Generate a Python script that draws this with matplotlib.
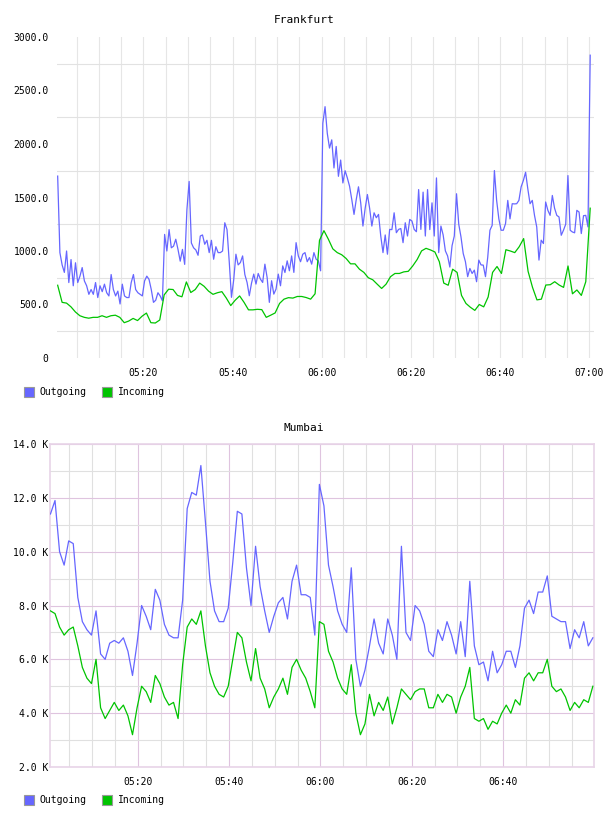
import matplotlib
matplotlib.use("Agg")
import matplotlib.pyplot as plt
import matplotlib.dates as mdates
from matplotlib.patches import Rectangle
from matplotlib.ticker import MultipleLocator, FixedLocator, FuncFormatter
import numpy as np
import pandas as pd

# series info shared by both panels
series_labels = ["Outgoing", "Incoming"]
series_colors = ["#6666ff", "#00c400"]

# Frankfurt, bytes (30 s samples outgoing, ~1 min incoming)
frankfurt_out = [
    1700, 985, 870, 800, 1000, 705, 920, 675, 890, 705,
    765, 845, 720, 675, 595, 640, 595, 705, 565, 675,
    620, 690, 610, 580, 780, 640, 580, 625, 505, 690,
    580, 565, 565, 705, 780, 640, 610, 595, 580, 720,
    765, 735, 640, 520, 540, 610, 580, 535, 1155, 1000,
    1200, 1030, 1045, 1110, 1015, 905, 1015, 875, 1385, 1650,
    1075, 1030, 1010, 960, 1140, 1150, 1063, 1100, 985, 1100,
    923, 1040, 985, 985, 1000, 1264, 1200, 900, 567, 730,
    970, 870, 892, 954, 780, 706, 582, 700, 784, 691,
    790, 737, 706, 877, 753, 520, 722, 597, 644, 784,
    675, 861, 799, 908, 815, 954, 800, 1078, 954, 900,
    970, 985, 900, 939, 877, 985, 923, 908, 815, 2194,
    2349, 2100, 1962, 2039, 1776, 1977, 1698, 1850, 1636, 1750,
    1683, 1605, 1480, 1342, 1481, 1600, 1450, 1233, 1400, 1528,
    1400, 1233, 1357, 1311, 1342, 1140, 985, 1150, 970, 1202,
    1200, 1357, 1171, 1202, 1210, 1078, 1264, 1140, 1295, 1280,
    1202, 1180, 1574, 1202, 1550, 1140, 1574, 1200, 1450, 1140,
    1683, 985, 1233, 1150, 1001, 954, 850, 1050, 1140, 1535,
    1250, 1132, 977, 900, 760, 837, 790, 821, 713, 915,
    870, 868, 760, 940, 1194, 1240, 1752, 1473, 1300, 1194,
    1194, 1256, 1473, 1300, 1442, 1440, 1442, 1473, 1600, 1659,
    1736, 1580, 1442, 1473, 1333, 1225, 915, 1101, 1070, 1458,
    1380, 1333, 1519, 1400, 1333, 1318, 1147, 1194, 1250, 1705,
    1194, 1178, 1170, 1380, 1364, 1163, 1330, 1333, 1225, 2830,
]
frankfurt_in = [
    680, 520, 513, 478, 430, 395, 380, 372, 380, 380,
    395, 380, 395, 400, 380, 330, 345, 370, 350, 390,
    420, 330, 327, 355, 590, 643, 640, 585, 572, 711,
    612, 640, 700, 670, 625, 595, 610, 620, 560, 490,
    540, 580, 520, 450, 450, 455, 452, 380, 400, 421,
    510, 550, 564, 560, 575, 575, 565, 550, 600, 1100,
    1190, 1110, 1020, 985, 965, 930, 880, 880, 830, 800,
    750, 731, 690, 650, 690, 760, 790, 790, 805, 810,
    860, 920, 1001, 1025, 1010, 991, 900, 700, 680, 830,
    800, 585, 510, 474, 445, 500, 478, 570, 800, 855,
    790, 1012, 1000, 985, 1040, 1116, 810, 660, 543, 550,
    682, 685, 713, 682, 660, 860, 600, 636, 585, 713, 1400,
]
frankfurt_span = ("2024-01-01 05:00:45", "2024-01-01 07:00:15")

# Mumbai, thousands (1 min samples)
mumbai_out = [
    11.4, 11.9, 10.0, 9.5, 10.4, 10.3, 8.3, 7.4, 7.1, 6.9,
    7.8, 6.2, 6.0, 6.6, 6.7, 6.6, 6.8, 6.3, 5.4, 6.6,
    8.0, 7.6, 7.1, 8.6, 8.2, 7.3, 6.9, 6.8, 6.8, 8.2,
    11.6, 12.2, 12.1, 13.2, 11.1, 8.9, 7.8, 7.4, 7.4, 7.9,
    9.6, 11.5, 11.4, 9.4, 8.0, 10.2, 8.7, 7.8, 7.0, 7.6,
    8.1, 8.3, 7.5, 8.9, 9.5, 8.4, 8.4, 8.3, 6.9, 12.5,
    11.7, 9.5, 8.7, 7.8, 7.3, 7.0, 9.4, 6.0, 5.0, 5.6,
    6.5, 7.5, 6.6, 6.2, 7.5, 6.9, 6.0, 10.2, 7.0, 6.7,
    8.0, 7.8, 7.3, 6.3, 6.1, 7.1, 6.7, 7.4, 6.9, 6.2,
    7.4, 6.1, 8.9, 6.5, 5.8, 5.9, 5.2, 6.3, 5.5, 5.8,
    6.3, 6.3, 5.7, 6.5, 7.9, 8.2, 7.7, 8.5, 8.5, 9.1,
    7.6, 7.5, 7.4, 7.4, 6.4, 7.1, 6.8, 7.4, 6.5, 6.8,
]
mumbai_in = [
    7.8, 7.7, 7.2, 6.9, 7.1, 7.2, 6.5, 5.7, 5.3, 5.1,
    6.0, 4.2, 3.8, 4.1, 4.4, 4.1, 4.3, 3.9, 3.2, 4.2,
    5.0, 4.8, 4.4, 5.4, 5.1, 4.6, 4.3, 4.4, 3.8, 5.8,
    7.2, 7.5, 7.3, 7.8, 6.5, 5.5, 5.0, 4.7, 4.6, 5.0,
    6.0, 7.0, 6.8, 5.9, 5.2, 6.4, 5.3, 4.9, 4.2, 4.6,
    4.9, 5.3, 4.7, 5.7, 6.0, 5.6, 5.3, 4.8, 4.2, 7.4,
    7.3, 6.3, 5.9, 5.3, 4.9, 4.7, 5.8, 4.0, 3.2, 3.6,
    4.7, 3.9, 4.4, 4.1, 4.6, 3.6, 4.2, 4.9, 4.7, 4.5,
    4.8, 4.9, 4.9, 4.2, 4.2, 4.7, 4.4, 4.7, 4.6, 4.0,
    4.6, 5.0, 5.7, 3.8, 3.7, 3.8, 3.4, 3.7, 3.6, 4.0,
    4.3, 4.0, 4.5, 4.3, 5.3, 5.5, 5.2, 5.5, 5.5, 6.0,
    5.0, 4.8, 4.9, 4.6, 4.1, 4.4, 4.2, 4.5, 4.4, 5.0,
]
mumbai_span = ("2024-01-01 05:00:54", "2024-01-01 06:59:40")

plt.rcParams["font.family"] = ["DejaVu Sans Mono"]
plt.rcParams["font.size"] = 7

W, H = 608, 816
fig = plt.figure(figsize=(W / 100, H / 100), dpi=100)


def px_box(left, top, right, bottom):
    return [left / W, 1 - bottom / H, (right - left) / W, (bottom - top) / H]


def draw_lines(ax, span, values_list):
    for values, color in zip(values_list, series_colors):
        t = pd.date_range(span[0], span[1], periods=len(values))
        ax.plot(t, values, color=color, lw=0.9, zorder=3)


def time_axis(ax, xmin, xmax):
    ax.set_xlim(pd.Timestamp(xmin), pd.Timestamp(xmax))
    ax.xaxis.set_major_locator(mdates.MinuteLocator(byminute=[0, 20, 40]))
    ax.xaxis.set_minor_locator(mdates.MinuteLocator(byminute=range(0, 60, 5)))
    ax.xaxis.set_major_formatter(mdates.DateFormatter("%H:%M"))
    ax.tick_params(which="both", length=0)
    ax.tick_params(axis="x", pad=7)
    ax.set_axisbelow(True)


def legend(y_top):
    for (px, tx), label, color in zip([(24, 39), (102, 118)], series_labels, series_colors):
        fig.add_artist(Rectangle((px / W, 1 - (y_top + 10) / H), 10 / W, 10 / H,
                                 transform=fig.transFigure, facecolor=color,
                                 edgecolor="#999999", lw=0.8))
        fig.text(tx / W, 1 - (y_top + 5) / H, label, va="center", ha="left", fontsize=7)


# Frankfurt panel
ax1 = fig.add_axes(px_box(57, 37, 594, 358))
draw_lines(ax1, frankfurt_span, [frankfurt_out, frankfurt_in])
time_axis(ax1, "2024-01-01 05:00:36", "2024-01-01 07:01:06")
ax1.set_ylim(0, 3000)
ax1.yaxis.set_major_locator(MultipleLocator(500))
ax1.yaxis.set_minor_locator(FixedLocator(np.arange(250, 3000, 500)))
ax1.yaxis.set_major_formatter(FuncFormatter(lambda v, p: "0" if v == 0 else f"{v:.1f}"))
ax1.tick_params(axis="y", pad=6)
ax1.grid(which="minor", axis="y", color="#e2e2e2", lw=0.8)
ax1.grid(which="both", axis="x", color="#e6e6e6", lw=0.8)
for s in ax1.spines.values():
    s.set_visible(False)
fig.text(0.5, 1 - 20 / H, "Frankfurt", ha="center", va="center", fontsize=8)
legend(387)

# Mumbai panel
ax2 = fig.add_axes(px_box(50, 444, 594, 767))
draw_lines(ax2, mumbai_span, [mumbai_out, mumbai_in])
time_axis(ax2, "2024-01-01 05:00:48", "2024-01-01 06:59:55")
ax2.set_ylim(2, 14)
ax2.yaxis.set_major_locator(MultipleLocator(2))
ax2.yaxis.set_minor_locator(MultipleLocator(1))
ax2.yaxis.set_major_formatter(FuncFormatter(lambda v, p: f"{v:.1f} K"))
ax2.tick_params(axis="y", pad=1)
ax2.grid(which="minor", color="#e0e0e0", lw=0.8)
ax2.grid(which="major", color="#dfc4df", lw=0.8)
for s in ax2.spines.values():
    s.set_color("#e8d4e8")
    s.set_linewidth(1.2)
fig.text(0.5, 1 - 428 / H, "Mumbai", ha="center", va="center", fontsize=8)
legend(795)

fig.savefig("out.png", dpi=100)
